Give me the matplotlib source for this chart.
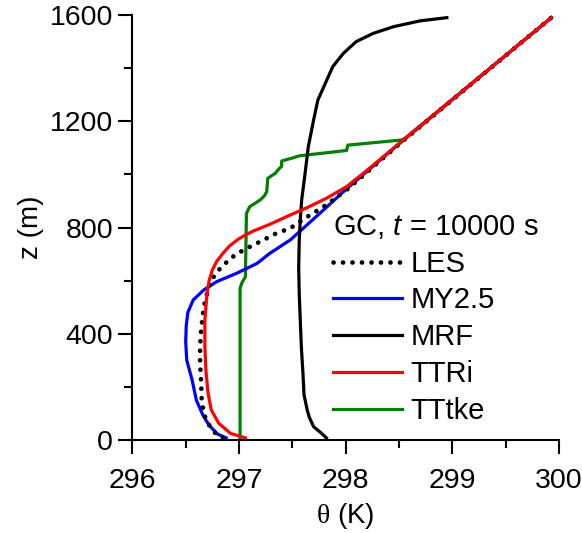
import matplotlib
matplotlib.use("Agg")
import matplotlib.pyplot as plt
from matplotlib.ticker import MultipleLocator

plt.rcParams['font.family'] = ['Liberation Sans', 'DejaVu Sans']
plt.rcParams['mathtext.fontset'] = 'custom'
plt.rcParams['mathtext.rm'] = 'Liberation Serif'
plt.rcParams['mathtext.it'] = 'Liberation Sans:italic'

# ---- data ----
les_theta = [296.85, 296.78, 296.74, 296.70, 296.67, 296.65, 296.645, 296.635, 296.635, 296.645,
             296.66, 296.68, 296.71, 296.74, 296.81, 296.92, 297.04, 297.20, 297.35, 297.48,
             297.62, 297.82, 298.02, 298.52, 299.93]
les_z = [8, 25, 44, 69, 100, 150, 213, 289, 351, 414,
         470, 520, 565, 602, 640, 684, 715, 747, 778, 797,
         835, 885, 945, 1120, 1590]

my_theta = [296.88, 296.80, 296.72, 296.66, 296.60, 296.56, 296.51, 296.50, 296.505, 296.52,
            296.57, 296.67, 296.79, 296.98, 297.17, 297.29, 297.48, 297.57, 297.82, 298.01,
            298.52, 299.93]
my_z = [8, 22, 55, 95, 150, 226, 300, 370, 430, 480,
        527, 565, 596, 628, 665, 703, 753, 785, 876, 946,
        1121, 1590]

mrf_theta = [297.82, 297.76, 297.70, 297.66, 297.64, 297.61, 297.60, 297.585, 297.575, 297.565,
             297.56, 297.565, 297.575, 297.588, 297.62, 297.65, 297.70, 297.74, 297.81, 297.88,
             297.98, 298.10, 298.26, 298.45, 298.70, 298.95]
mrf_z = [8, 30, 50, 85, 113, 170, 250, 350, 450, 550,
         650, 750, 830, 904, 1004, 1104, 1205, 1280, 1343, 1406,
         1456, 1500, 1531, 1556, 1578, 1590]

tri_theta = [297.06, 296.92, 296.81, 296.74, 296.71, 296.69, 296.68, 296.68, 296.70, 296.72,
             296.75, 296.79, 296.85, 296.91, 296.99, 297.06, 297.13, 297.29, 297.48, 297.64,
             297.82, 298.01, 298.20, 298.52, 299.93]
tri_z = [8, 25, 63, 113, 176, 260, 350, 452, 552, 600,
         640, 672, 703, 730, 755, 772, 786, 812, 847, 875,
         910, 954, 1015, 1122, 1590]

tke_theta = [297.01, 297.01, 297.025, 297.06, 297.07, 297.10, 297.20, 297.24, 297.26, 297.27,
             297.34, 297.38, 297.40, 297.40, 297.57, 298.01, 298.02, 298.54, 299.93]
tke_z = [8, 570, 590, 615, 853, 878, 904, 920, 935, 985,
         1004, 1023, 1030, 1050, 1070, 1090, 1110, 1130, 1590]

x_ticks = [296, 297, 298, 299, 300]
y_ticks = [0, 400, 800, 1200, 1600]

fig = plt.figure(figsize=(5.82, 5.33), dpi=100)
ax = fig.add_axes([132.4 / 582, 1 - 440 / 533, (558.8 - 132.4) / 582, (440 - 15) / 533])

lw = 2.3
h_tke, = ax.plot(tke_theta, tke_z, color='#008000', lw=lw, zorder=2)
h_my, = ax.plot(my_theta, my_z, color='#0000ff', lw=lw, zorder=3)
h_mrf, = ax.plot(mrf_theta, mrf_z, color='black', lw=lw, zorder=3)
h_les, = ax.plot(les_theta, les_z, color='black', lw=3.4, linestyle=(0, (0.01, 2.0)),
                 dash_capstyle='round', zorder=4)
h_tri, = ax.plot(tri_theta, tri_z, color='#ff0000', lw=lw, zorder=5)

ax.set_xlim(296, 300)
ax.set_ylim(0, 1600)
ax.set_xticks(x_ticks)
ax.set_yticks(y_ticks)
ax.xaxis.set_minor_locator(MultipleLocator(0.5))
ax.yaxis.set_minor_locator(MultipleLocator(200))
for s in ['top', 'right']:
    ax.spines[s].set_visible(False)
for s in ['left', 'bottom']:
    ax.spines[s].set_linewidth(1.5)
ax.tick_params(which='major', length=10, width=1.5, labelsize=20.5)
ax.tick_params(axis='x', which='major', pad=10.5)
ax.tick_params(axis='y', which='major', pad=4)
ax.tick_params(which='minor', length=5.5, width=1.5)

ax.set_xlabel(r'$\mathrm{\theta}$ (K)', fontsize=20, labelpad=5)
ax.set_ylabel('z (m)', fontsize=20, labelpad=4)

leg = ax.legend([h_les, h_my, h_mrf, h_tri, h_tke],
                ['LES', 'MY2.5', 'MRF', 'TTRi', 'TTtke'],
                title=r'GC, $t$ = 10000 s', title_fontsize=21, fontsize=21,
                frameon=False, loc='upper left',
                bbox_to_anchor=(333 / 582, 1 - 213 / 533), bbox_transform=fig.transFigure,
                borderpad=0, borderaxespad=0, handlelength=2.35, handletextpad=0.3,
                labelspacing=0.3, alignment='left')

fig.savefig('out.png', dpi=100)
